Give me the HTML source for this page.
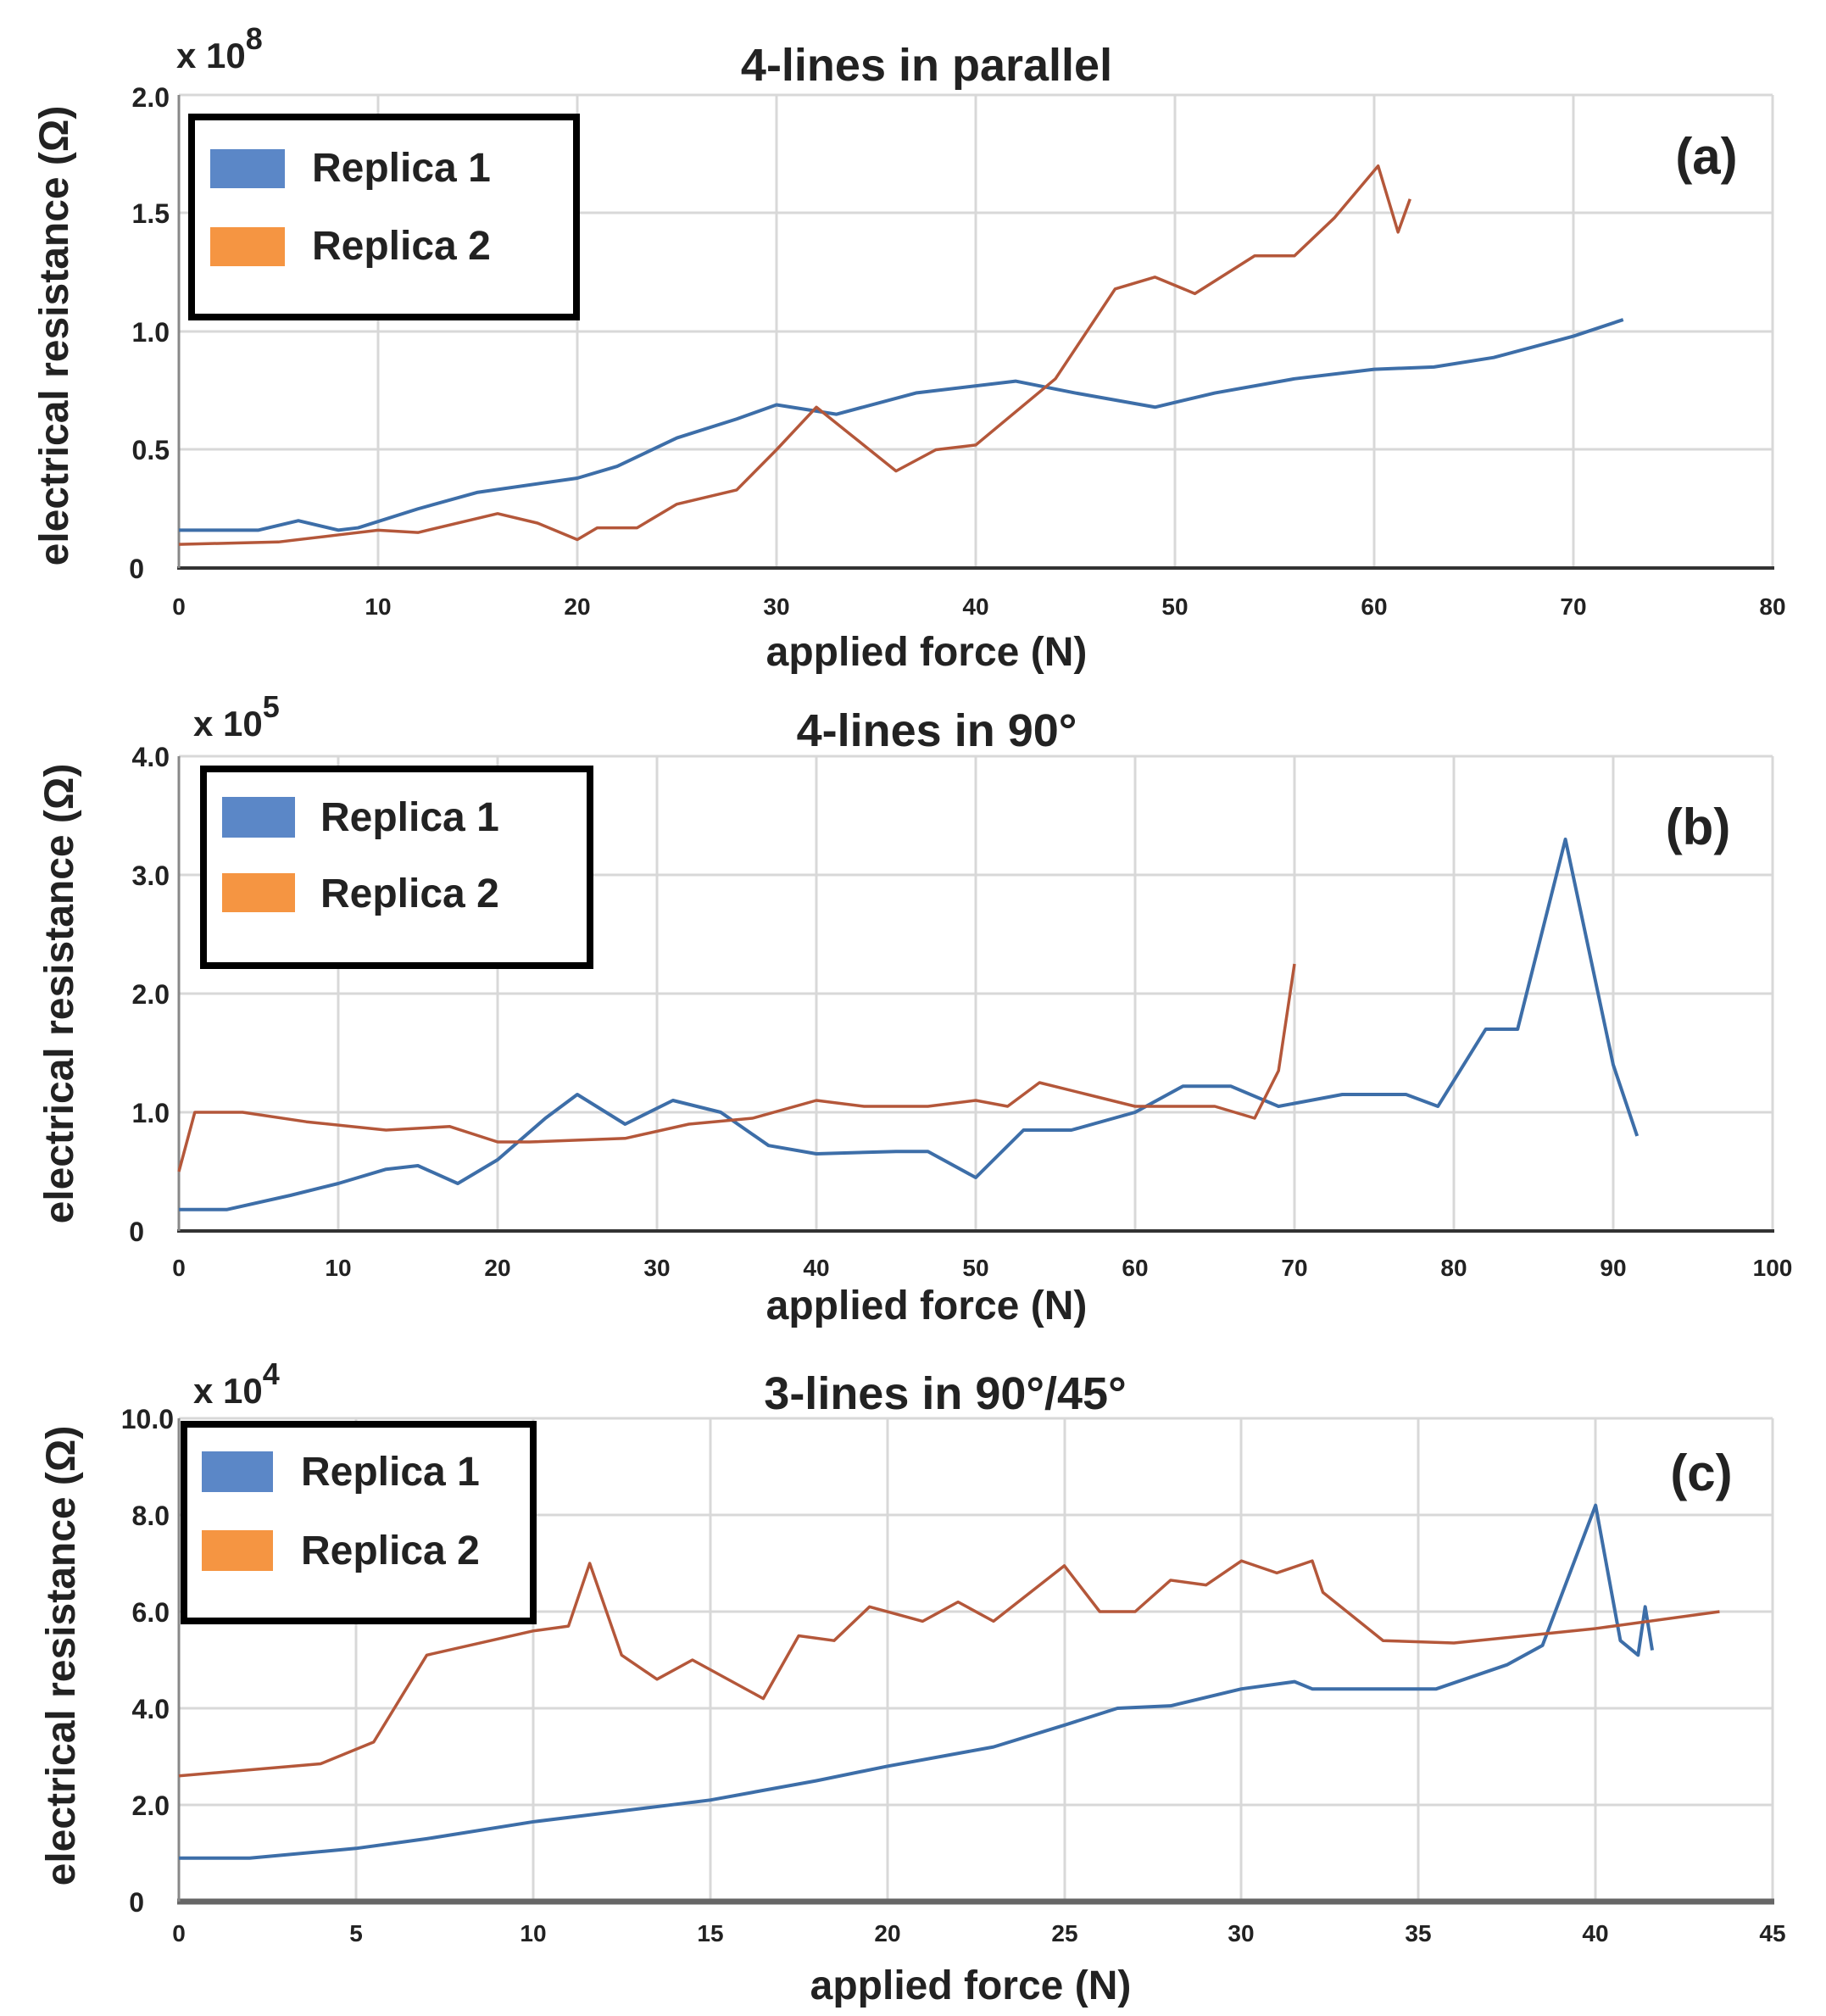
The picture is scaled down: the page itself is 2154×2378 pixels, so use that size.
<!DOCTYPE html>
<html><head><meta charset="utf-8"><style>
body{margin:0;background:#fff}
svg{display:block}
text{font-family:"Liberation Sans",sans-serif;font-weight:bold;fill:#222}
.t{font-size:32px}
.g{stroke:#d8d8d8;stroke-width:3}
.ax{stroke:#333;stroke-width:4;fill:none}
.b{fill:none;stroke:#3d6ea8;stroke-width:4;vector-effect:non-scaling-stroke;stroke-linejoin:round}
.o{fill:none;stroke:#b4573a;stroke-width:3.5;vector-effect:non-scaling-stroke;stroke-linejoin:round}
.lab{font-size:48px}
.ti{font-size:54px}
.lg{font-size:48px}
</style></head><body>
<svg width="2154" height="2378" viewBox="0 0 2154 2378" xmlns="http://www.w3.org/2000/svg">
<!-- Panel a -->
<g>
<g class="g">
<line x1="211" y1="112" x2="2091" y2="112"/><line x1="211" y1="251" x2="2091" y2="251"/><line x1="211" y1="391" x2="2091" y2="391"/><line x1="211" y1="530" x2="2091" y2="530"/>
<line x1="446" y1="112" x2="446" y2="670"/><line x1="681" y1="112" x2="681" y2="670"/><line x1="916" y1="112" x2="916" y2="670"/><line x1="1151" y1="112" x2="1151" y2="670"/><line x1="1386" y1="112" x2="1386" y2="670"/><line x1="1621" y1="112" x2="1621" y2="670"/><line x1="1856" y1="112" x2="1856" y2="670"/><line x1="2091" y1="112" x2="2091" y2="670"/>
</g>
<line class="ax" x1="209" y1="670" x2="2093" y2="670"/><line x1="211" y1="112" x2="211" y2="670" stroke="#888" stroke-width="3"/>
<g transform="translate(211,670) scale(23.5,-279)">
<polyline class="b" points="0,0.16 4,0.16 6,0.2 8,0.16 9,0.17 12,0.25 15,0.32 20,0.38 22,0.43 25,0.55 28,0.63 30,0.69 33,0.65 37,0.74 42,0.79 45,0.74 49,0.68 52,0.74 56,0.8 60,0.84 63,0.85 66,0.89 70,0.98 72.5,1.05"/>
<polyline class="o" points="0,0.1 5,0.11 8,0.14 10,0.16 12,0.15 16,0.23 18,0.19 20,0.12 21,0.17 23,0.17 25,0.27 28,0.33 30,0.5 32,0.68 36,0.41 38,0.5 40,0.52 44,0.8 47,1.18 49,1.23 51,1.16 54,1.32 56,1.32 58,1.48 60.2,1.7 61.2,1.42 61.8,1.56"/>
</g>
<g class="t" text-anchor="end"><text x="200" y="126">2.0</text><text x="200" y="263">1.5</text><text x="200" y="403">1.0</text><text x="200" y="542">0.5</text><text x="170" y="682">0</text></g>
<g class="t" text-anchor="middle" style="font-size:28px"><text x="211" y="725">0</text><text x="446" y="725">10</text><text x="681" y="725">20</text><text x="916" y="725">30</text><text x="1151" y="725">40</text><text x="1386" y="725">50</text><text x="1621" y="725">60</text><text x="1856" y="725">70</text><text x="2091" y="725">80</text></g>
<text class="lab" x="1093" y="785" text-anchor="middle">applied force (N)</text>
<text class="ti" x="1093" y="95" text-anchor="middle">4-lines in parallel</text>
<text x="208" y="80" style="font-size:42px">x 10<tspan dy="-22" style="font-size:36px">8</tspan></text>
<text x="2013" y="205" style="font-size:60px" text-anchor="middle">(a)</text>
<rect x="226" y="138" width="454" height="236" fill="#fff" stroke="#000" stroke-width="8"/>
<rect x="248" y="176" width="88" height="46" fill="#5b87c7"/><rect x="248" y="268" width="88" height="46" fill="#f59542"/>
<text class="lg" x="368" y="214">Replica 1</text><text class="lg" x="368" y="306">Replica 2</text>
<text class="lab" transform="translate(80,396) rotate(-90)" text-anchor="middle">electrical resistance (Ω)</text>
</g>
<!-- Panel b -->
<g>
<g class="g">
<line x1="211" y1="892" x2="2091" y2="892"/><line x1="211" y1="1032" x2="2091" y2="1032"/><line x1="211" y1="1172" x2="2091" y2="1172"/><line x1="211" y1="1312" x2="2091" y2="1312"/>
<line x1="399" y1="892" x2="399" y2="1452"/><line x1="587" y1="892" x2="587" y2="1452"/><line x1="775" y1="892" x2="775" y2="1452"/><line x1="963" y1="892" x2="963" y2="1452"/><line x1="1151" y1="892" x2="1151" y2="1452"/><line x1="1339" y1="892" x2="1339" y2="1452"/><line x1="1527" y1="892" x2="1527" y2="1452"/><line x1="1715" y1="892" x2="1715" y2="1452"/><line x1="1903" y1="892" x2="1903" y2="1452"/><line x1="2091" y1="892" x2="2091" y2="1452"/>
</g>
<line class="ax" x1="209" y1="1452" x2="2093" y2="1452"/><line x1="211" y1="892" x2="211" y2="1452" stroke="#888" stroke-width="3"/>
<g transform="translate(211,1452) scale(18.8,-140)">
<polyline class="b" points="0,0.18 3,0.18 7,0.3 10,0.4 13,0.52 15,0.55 17.5,0.4 20,0.6 23,0.95 25,1.15 28,0.9 31,1.1 34,1.0 37,0.72 40,0.65 45,0.67 47,0.67 50,0.45 53,0.85 56,0.85 60,1.0 63,1.22 66,1.22 69,1.05 73,1.15 77,1.15 79,1.05 82,1.7 84,1.7 87,3.3 90,1.4 91.5,0.8"/>
<polyline class="o" points="0,0.5 1,1.0 4,1.0 8,0.92 13,0.85 17,0.88 20,0.75 22,0.75 28,0.78 32,0.9 36,0.95 40,1.1 43,1.05 47,1.05 50,1.1 52,1.05 54,1.25 57,1.15 60,1.05 65,1.05 67.5,0.95 69,1.35 70,2.25"/>
</g>
<g class="t" text-anchor="end"><text x="200" y="904">4.0</text><text x="200" y="1044">3.0</text><text x="200" y="1184">2.0</text><text x="200" y="1324">1.0</text><text x="170" y="1464">0</text></g>
<g class="t" text-anchor="middle" style="font-size:28px"><text x="211" y="1505">0</text><text x="399" y="1505">10</text><text x="587" y="1505">20</text><text x="775" y="1505">30</text><text x="963" y="1505">40</text><text x="1151" y="1505">50</text><text x="1339" y="1505">60</text><text x="1527" y="1505">70</text><text x="1715" y="1505">80</text><text x="1903" y="1505">90</text><text x="2091" y="1505">100</text></g>
<text class="lab" x="1093" y="1556" text-anchor="middle">applied force (N)</text>
<text class="ti" x="1105" y="880" text-anchor="middle">4-lines in 90°</text>
<text x="228" y="868" style="font-size:42px">x 10<tspan dy="-22" style="font-size:36px">5</tspan></text>
<text x="2003" y="996" style="font-size:60px" text-anchor="middle">(b)</text>
<rect x="240" y="907" width="456" height="232" fill="#fff" stroke="#000" stroke-width="8"/>
<rect x="262" y="940" width="86" height="48" fill="#5b87c7"/><rect x="262" y="1030" width="86" height="46" fill="#f59542"/>
<text class="lg" x="378" y="980">Replica 1</text><text class="lg" x="378" y="1070">Replica 2</text>
<text class="lab" transform="translate(86,1172) rotate(-90)" text-anchor="middle">electrical resistance (Ω)</text>
</g>
<!-- Panel c -->
<g>
<g class="g">
<line x1="211" y1="1673" x2="2091" y2="1673"/><line x1="211" y1="1787" x2="2091" y2="1787"/><line x1="211" y1="1901" x2="2091" y2="1901"/><line x1="211" y1="2015" x2="2091" y2="2015"/><line x1="211" y1="2129" x2="2091" y2="2129"/>
<line x1="420" y1="1673" x2="420" y2="2243"/><line x1="629" y1="1673" x2="629" y2="2243"/><line x1="838" y1="1673" x2="838" y2="2243"/><line x1="1047" y1="1673" x2="1047" y2="2243"/><line x1="1256" y1="1673" x2="1256" y2="2243"/><line x1="1464" y1="1673" x2="1464" y2="2243"/><line x1="1673" y1="1673" x2="1673" y2="2243"/><line x1="1882" y1="1673" x2="1882" y2="2243"/><line x1="2091" y1="1673" x2="2091" y2="2243"/>
</g>
<line x1="209" y1="2243" x2="2093" y2="2243" stroke="#666" stroke-width="7"/><line x1="211" y1="1673" x2="211" y2="2243" stroke="#888" stroke-width="3"/>
<g transform="translate(211,2243) scale(41.78,-57)">
<polyline class="b" points="0,0.9 2,0.9 5,1.1 7,1.3 10,1.65 15,2.1 18,2.5 20,2.8 23,3.2 25,3.65 26.5,4.0 28,4.05 30,4.4 31.5,4.55 32,4.4 35.5,4.4 37.5,4.9 38.5,5.3 40,8.2 40.7,5.4 41.2,5.1 41.4,6.1 41.6,5.2"/>
<polyline class="o" points="0,2.6 4,2.85 5.5,3.3 7,5.1 10,5.6 11,5.7 11.6,7.0 12.5,5.1 13.5,4.6 14.5,5.0 16.5,4.2 17.5,5.5 18.5,5.4 19.5,6.1 21,5.8 22,6.2 23,5.8 25,6.95 26,6.0 27,6.0 28,6.65 29,6.55 30,7.05 31,6.8 32,7.05 32.3,6.4 34,5.4 36,5.35 40,5.65 43.5,6.0"/>
</g>
<g class="t" text-anchor="end"><text x="205" y="1685">10.0</text><text x="200" y="1799">8.0</text><text x="200" y="1913">6.0</text><text x="200" y="2027">4.0</text><text x="200" y="2141">2.0</text><text x="170" y="2255">0</text></g>
<g class="t" text-anchor="middle" style="font-size:28px"><text x="211" y="2290">0</text><text x="420" y="2290">5</text><text x="629" y="2290">10</text><text x="838" y="2290">15</text><text x="1047" y="2290">20</text><text x="1256" y="2290">25</text><text x="1464" y="2290">30</text><text x="1673" y="2290">35</text><text x="1882" y="2290">40</text><text x="2091" y="2290">45</text></g>
<text class="lab" x="1145" y="2358" text-anchor="middle">applied force (N)</text>
<text class="ti" x="1115" y="1662" text-anchor="middle">3-lines in 90°/45°</text>
<text x="228" y="1655" style="font-size:42px">x 10<tspan dy="-22" style="font-size:36px">4</tspan></text>
<text x="2007" y="1758" style="font-size:60px" text-anchor="middle">(c)</text>
<rect x="217" y="1680" width="412" height="232" fill="#fff" stroke="#000" stroke-width="8"/>
<rect x="238" y="1712" width="84" height="48" fill="#5b87c7"/><rect x="238" y="1805" width="84" height="48" fill="#f59542"/>
<text class="lg" x="355" y="1752">Replica 1</text><text class="lg" x="355" y="1845">Replica 2</text>
<text class="lab" transform="translate(88,1953) rotate(-90)" text-anchor="middle">electrical resistance (Ω)</text>
</g>
</svg>
</body></html>
